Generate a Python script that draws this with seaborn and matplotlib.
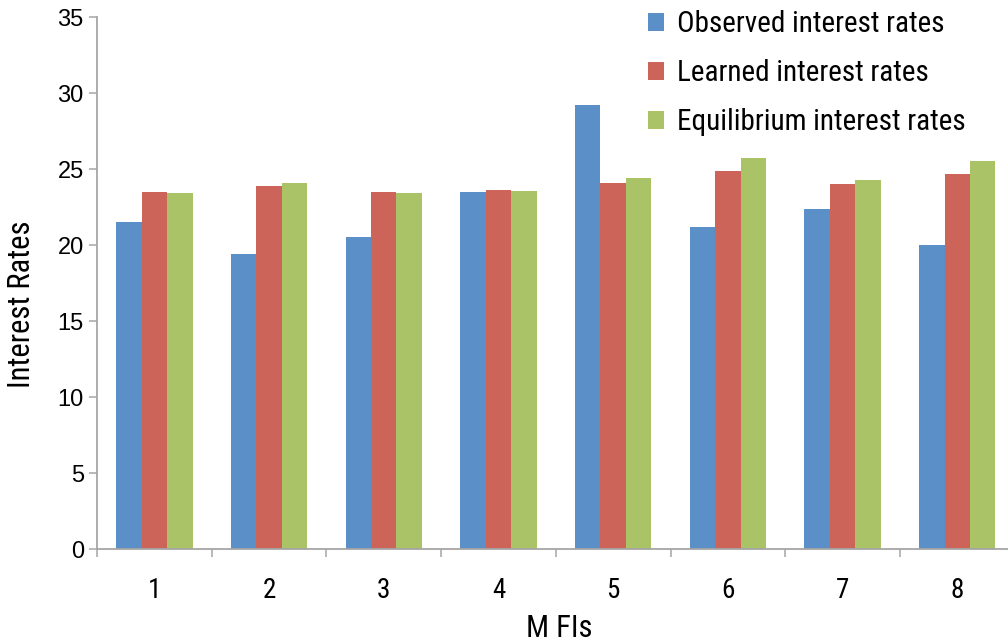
import os
import re
import matplotlib
matplotlib.use("Agg")
import matplotlib.pyplot as plt
from matplotlib import font_manager as fm
import seaborn as sns
import pandas as pd
from matplotlib.ticker import FixedLocator

# Interest rates per MFI
mfis = ["1", "2", "3", "4", "5", "6", "7", "8"]
observed = [21.5, 19.4, 20.5, 23.5, 29.2, 21.2, 22.4, 20.0]
learned = [23.5, 23.9, 23.5, 23.6, 24.1, 24.9, 24.0, 24.7]
equilibrium = [23.4, 24.1, 23.4, 23.55, 24.4, 25.7, 24.3, 25.5]
series_names = ["Observed interest rates", "Learned interest rates",
                "Equilibrium interest rates"]
colors = ["#5A8FC8", "#CD645A", "#ABC367"]

df = pd.DataFrame({
    "MFI": mfis * 3,
    "rate": observed + learned + equilibrium,
    "series": [s for s in series_names for _ in mfis],
})


def condensed_font():
    """Find a regular-weight condensed/narrow sans font on the system."""
    prefs = [r"LiberationSansNarrow-Regular", r"ArialNarrow", r"RobotoCondensed-Regular",
             r"NotoSans-Condensed\.", r"NotoSans_Condensed-Regular",
             r"DejaVuSansCondensed\.", r"OpenSans_Condensed-Regular",
             r"OpenSansCondensed-Regular", r"NotoSans-CondensedRegular",
             r"(Narrow|Condensed)(-Regular)?\.(ttf|otf)$"]
    files = [f.fname for f in fm.fontManager.ttflist]
    for p in prefs:
        for fn in files:
            if re.search(p, os.path.basename(fn)):
                return fm.FontProperties(fname=fn), True
    for f in fm.fontManager.ttflist:
        if f.stretch in ("condensed", "semi-condensed") and f.style == "normal" \
                and f.weight in (400, "normal", "regular"):
            return fm.FontProperties(fname=f.fname), True
    return fm.FontProperties(family="Liberation Sans"), False


cond, found = condensed_font()
scale = 1.0 if found else 0.82

sns.set_theme(style="white")
plt.rcParams["font.family"] = ["Liberation Sans", "DejaVu Sans"]

W, H = 1008, 641
fig = plt.figure(figsize=(W / 100, H / 100), dpi=100)
left, right, top, bottom = 97, 1014.6, 17, 549
ax = fig.add_axes([left / W, (H - bottom) / H, (right - left) / W, (bottom - top) / H])

sns.barplot(data=df, x="MFI", y="rate", hue="series", order=mfis,
            hue_order=series_names, palette=colors, width=2 / 3, gap=0,
            linewidth=0, saturation=1, ax=ax, legend=True)

ax.set_xlim(-0.5, len(mfis) - 0.5)
ax.set_ylim(0, 35)
ax.set_yticks(range(0, 36, 5))

spine_col = "#A6A6A6"
for s in ["top", "right"]:
    ax.spines[s].set_visible(False)
for s in ["left", "bottom"]:
    ax.spines[s].set_color(spine_col)
    ax.spines[s].set_linewidth(1.3)

ax.tick_params(axis="y", which="major", direction="out", length=6, width=1.1,
               color=spine_col, pad=3.5, labelsize=17, labelcolor="black", left=True)
ax.tick_params(axis="x", which="major", length=0, pad=20)
ax.xaxis.set_minor_locator(FixedLocator([i - 0.5 for i in range(len(mfis) + 1)]))
ax.tick_params(axis="x", which="minor", direction="out", length=6, width=1.1,
               color=spine_col, bottom=True)
for lab in ax.get_xticklabels():
    lab.set_fontproperties(cond)
    lab.set_fontsize(19.5 * scale)
    lab.set_color("black")

ax.set_xlabel("M FIs", fontproperties=cond, fontsize=22 * scale, color="black")
ax.set_ylabel("Interest Rates", fontproperties=cond, fontsize=22 * scale, color="black")
ax.xaxis.set_label_coords(0.504, -0.122)
ax.xaxis.label.set_verticalalignment("top")
ax.yaxis.set_label_coords(-0.067, 0.46)

handles, labels = ax.get_legend_handles_labels()
ax.get_legend().remove()
leg_prop = cond.copy()
leg_prop.set_size(21 * scale)
leg = fig.legend(handles, labels, loc="upper left",
                 bbox_to_anchor=(648 / W, (H - 10) / H),
                 frameon=False, prop=leg_prop, labelcolor="black",
                 handlelength=0.56, handleheight=0.56, handletextpad=0.42,
                 labelspacing=0.72, borderpad=0, borderaxespad=0)

fig.savefig("out.png", dpi=100)
